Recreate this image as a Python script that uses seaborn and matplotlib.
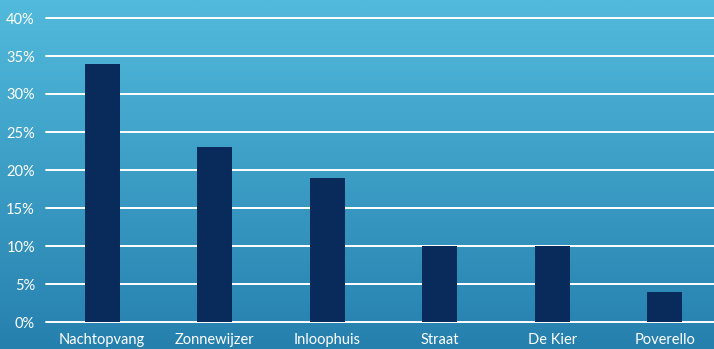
import numpy as np
import pandas as pd
import matplotlib
matplotlib.use("Agg")
import matplotlib.pyplot as plt
import seaborn as sns

categories = ["Nachtopvang", "Zonnewijzer", "Inloophuis", "Straat", "De Kier", "Poverello"]
values = [34, 23, 19, 10, 10, 4]
yticks = [0, 5, 10, 15, 20, 25, 30, 35, 40]
ytick_labels = [f"{v}%" for v in yticks]

sns.set_style("white")
plt.rcParams['font.family'] = ['Lato', 'DejaVu Sans']

fig = plt.figure(figsize=(7.14, 3.49), dpi=100)

# gradient background
bg = fig.add_axes([0, 0, 1, 1], zorder=0)
top = np.array([82, 186, 220]) / 255
bot = np.array([38, 128, 174]) / 255
t = np.linspace(0, 1, 256)[:, None]
grad = top[None, :] * (1 - t) + bot[None, :] * t
img = np.repeat(grad[:, None, :], 2, axis=1)
bg.imshow(img, aspect="auto", extent=[0, 1, 0, 1], origin="upper")
bg.axis("off")

W, H = 714, 349
left, right = 46, 721
y0, y40 = 322, 18
ax = fig.add_axes([left / W, (H - y0) / H, (right - left) / W, (y0 - y40) / H], zorder=1)
ax.patch.set_alpha(0)

df = pd.DataFrame({"cat": categories, "val": values})
sns.barplot(data=df, x="cat", y="val", color="#082b5c", width=0.31, saturation=1,
            linewidth=0, edgecolor="none", ax=ax, zorder=3)

ax.set_ylim(0, 40)
ax.set_xlim(-0.5, len(categories) - 0.5)
ax.set_yticks(yticks)
ax.set_yticklabels(ytick_labels)
for y in yticks:
    ax.axhline(y, color="white", lw=1.4, zorder=2, clip_on=False)
ax.set_xlabel("")
ax.set_ylabel("")
for s in ax.spines.values():
    s.set_visible(False)
ax.tick_params(axis="both", length=0, colors="white", labelsize=10.5)
ax.tick_params(axis="y", pad=8)
ax.tick_params(axis="x", pad=8)

fig.savefig("out.png", dpi=100)
